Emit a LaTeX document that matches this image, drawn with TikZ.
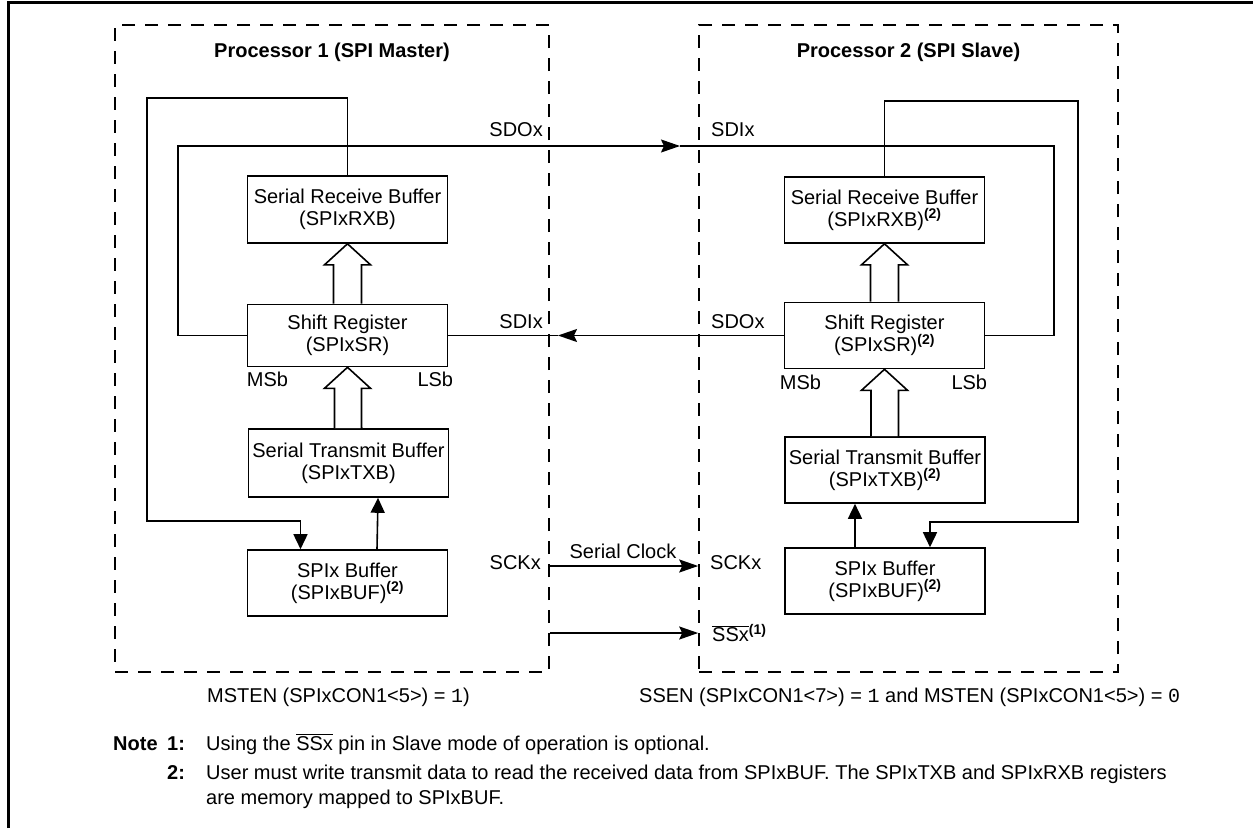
\documentclass[tikz,border=0pt]{standalone}
\usepackage{fontspec}
\setmainfont{Liberation Sans}
\setmonofont{Liberation Mono}
\usetikzlibrary{positioning,arrows.meta}
\newcommand\fnref[1]{\textsuperscript{\bfseries(#1)}}
\newcommand\ovl[1]{$\overline{\mbox{#1}}$}
\tikzset{reg/.style={draw,line width=1.6pt,minimum width=200pt,minimum height=66pt,align=center},
	 proc/.style={draw,dash pattern=on 13pt off 10pt,line width=1.6pt},
	 wire/.style={line width=1.6pt},
	 arr/.style={wire,-{Stealth[length=19pt,width=13pt,inset=3pt]}},
	 varr/.style={wire,-{Triangle[length=15pt,width=14pt]}},
	 fat/.style={draw,fill=white,line width=1.6pt},
	 bold/.style={font=\fontsize{20}{22}\selectfont\bfseries},
	 node distance = 1
	 }
\begin{document}
\begin{tikzpicture}[x=1pt,y=-1pt,inner sep=0pt,font=\fontsize{20}{22}\selectfont]% SPI master / slave
        \useasboundingbox (0,0) rectangle (1253,828);
        \draw[line width=3pt] (8,828) -- (8,2) -- (1253,2);
        \node[proc,minimum width=434pt,minimum height=647pt] (p1) at (332,348.5) {};
        \node[proc,minimum width=419pt,minimum height=647pt] (p2) at (908.5,348.5) {};
        \node[bold] (t1) at (332,52) {Processor 1 (SPI Master)};
        \node[bold] (t2) at (908.5,52) {Processor 2 (SPI Slave)};
        % master
        \node[reg,minimum height=67pt] (rx1) at (347.5,209.5) {Serial Receive Buffer\\(SPIxRXB)};
        \node[reg,minimum height=62pt] (sr1) at (347.5,335.5)
             [label={[anchor=north west,yshift=-5pt]south west:MSb}]
             [label={[anchor=north east,xshift=5pt,yshift=-5pt]south east:LSb}] {Shift Register\\(SPIxSR)};
        \node[reg,minimum height=68pt] (tx1) at (348.5,463) {Serial Transmit Buffer\\(SPIxTXB)};
        \node[reg] (buf1) at (347.5,583) {SPIx Buffer\\(SPIxBUF)\fnref{2}};
        % slave
        \node[reg] (rx2) at (884.5,210) {Serial Receive Buffer\\(SPIxRXB)\fnref{2}};
        \node[reg] (sr2) at (884.5,335.5)
             [label={[anchor=north west,xshift=-4pt,yshift=-6pt]south west:MSb}]
             [label={[anchor=north east,xshift=2pt,yshift=-6pt]south east:LSb}] {Shift Register\\(SPIxSR)\fnref{2}};
        \node[reg] (tx2) at (885,470) {Serial Transmit Buffer\\(SPIxTXB)\fnref{2}};
        \node[reg] (buf2) at (885,581) {SPIx Buffer\\(SPIxBUF)\fnref{2}};
        % pins
        \node[anchor=east] (sdo1) at (543,130) {SDOx};
        \node[anchor=east] (sdi1) at (543,322) {SDIx};
        \node[anchor=east] (sck1) at (541,563) {SCKx};
        \node[anchor=west] (sdi2) at (711,130) {SDIx};
        \node[anchor=west] (sdo2) at (711,322) {SDOx};
        \node[anchor=west] (sck2) at (710,563) {SCKx};
        \node[anchor=west] (ss2) at (712,633) {\ovl{SSx}\fnref{1}};
        \node (clk) at (623,551) {Serial Clock};
        \coordinate (sdotip) at (680,146);
        \coordinate (sditip) at (558,335.5);
        % wide arrows
        \draw[fat] ([xshift=-14pt]sr1.north) |- ([xshift=-23pt,yshift=-21pt]rx1.south) -- (rx1.south) -- ++(23,21) -- ++(-9,0) |- ([xshift=14pt]sr1.north);
        \draw[fat] ([xshift=-14pt]tx1.north) |- ([xshift=-23pt,yshift=-21pt]sr1.south) -- (sr1.south) -- ++(23,21) -- ++(-9,0) |- ([xshift=14pt]tx1.north);
        \draw[fat] ([xshift=-14pt]sr2.north) |- ([xshift=-23pt,yshift=-21pt]rx2.south) -- (rx2.south) -- ++(23,21) -- ++(-9,0) |- ([xshift=14pt]sr2.north);
        \draw[fat] ([xshift=-14pt]tx2.north) |- ([xshift=-23pt,yshift=-21pt]sr2.south) -- (sr2.south) -- ++(23,21) -- ++(-9,0) |- ([xshift=14pt]tx2.north);
        % loops
        \draw[varr] (rx1.north) |- (147,98) |- ([xshift=-47pt]buf1.north |- 0,521) -- ([xshift=-47pt]buf1.north);
        \draw[varr] (rx2.north) |- (1078,101) |- ([xshift=45pt]buf2.north |- 0,522) -- ([xshift=45pt]buf2.north);
        \draw[varr] ([xshift=29.5pt]buf1.north) -- ([xshift=29.5pt]tx1.south);
        \draw[varr] ([xshift=-30pt]buf2.north) -- ([xshift=-30pt]tx2.south);
        \draw[arr] (sr1.west) -| (178,146) -- (sdotip);
        \draw[wire] (sdotip) -- (1054,146) |- (sr2.east);
        \draw[arr] (sr2.west) -- (sditip);
        \draw[wire] (sditip) -- (sr1.east);
        \draw[arr] (p1.east |- 0,566) -- (p2.west |- 0,566);
        \draw[arr] (p1.east |- 0,633) -- (p2.west |- 0,633);
        % settings and notes
        \node[anchor=base west] (m1) at (207,702) {MSTEN (SPIxCON1<5>) = \texttt{1})};
        \node[anchor=base west] (m2) at (639,702) {SSEN (SPIxCON1<7>) = \texttt{1} and MSTEN (SPIxCON1<5>) = \texttt{0}};
        \node[bold,anchor=base west] (note) at (113,750) {Note};
        \node[bold,anchor=base west] (n1) at (167,750) {1:};
        \node[anchor=base west] (n1t) at (206,750) {Using the \ovl{SSx} pin in Slave mode of operation is optional.};
        \node[bold,anchor=base west] (n2) at (167,779) {2:};
        \node[anchor=base west] (n2t) at (206,779) {User must write transmit data to read the received data from SPIxBUF. The SPIxTXB and SPIxRXB registers};
        \node[anchor=base west] (n2u) at (206,804) {are memory mapped to SPIxBUF.};
     \end{tikzpicture}
\end{document}
